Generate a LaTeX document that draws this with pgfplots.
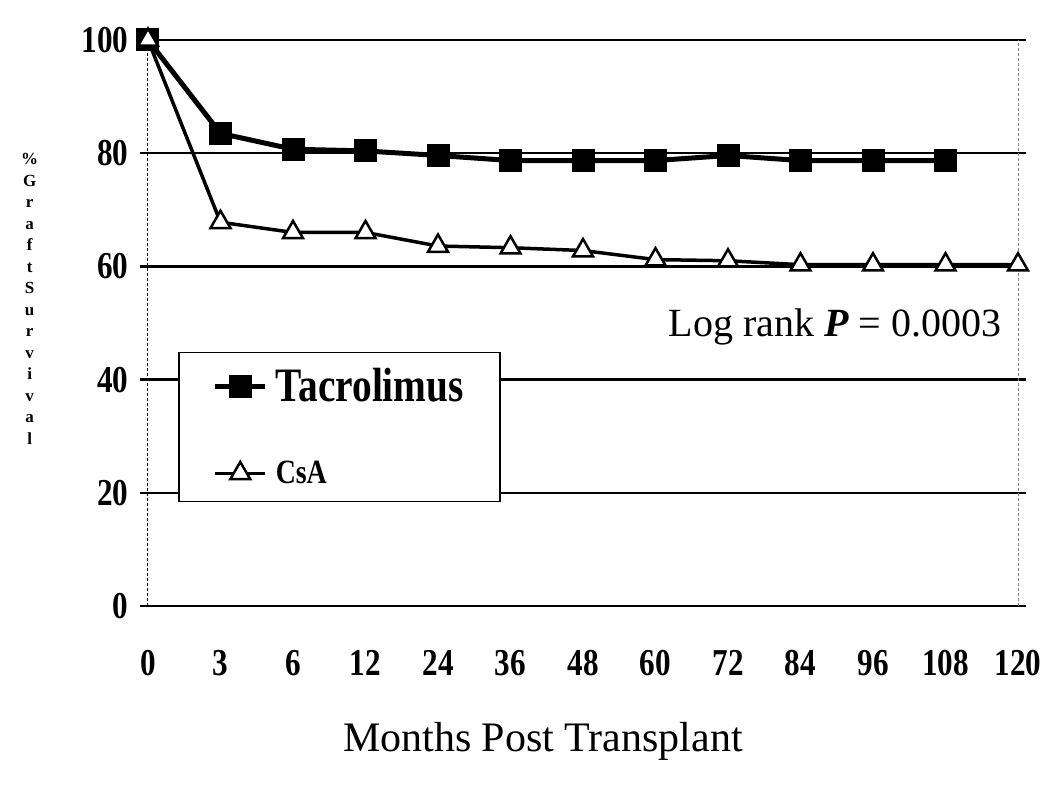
\documentclass[border=0pt]{standalone}
\usepackage{pgfplots}
\pgfplotsset{compat=1.18}
\usepackage{fontspec}
\setmainfont{Liberation Serif}
\newfontfamily\condfont[FakeStretch=0.82]{Liberation Serif}

\begin{document}
\begin{tikzpicture}
\path[use as bounding box] (0pt,0pt) rectangle (1050pt,785pt);
\begin{axis}[
  at={(148pt,179pt)}, anchor=south west,
  scale only axis, width=870pt, height=566pt,
  xmin=0, xmax=12, ymin=0, ymax=100,
  clip=false,
  axis line style={draw=none},
  xtick={0,...,12},
  xticklabels={0,3,6,12,24,36,48,60,72,84,96,108,120},
  ytick={0,20,40,60,80,100},
  yticklabels={0,20,40,60,80,100},
  /pgf/number format/assume math mode=true,
  xtick style={draw=none},
  ytick style={line width=2.5pt, black},
  major tick length=16pt, tick align=center,
  ymajorgrids, grid style={line width=2.5pt, black},
  ticklabel style={font=\condfont\bfseries\fontsize{38}{38}\selectfont},
  xticklabel style={yshift=-33pt},
  yticklabel style={xshift=-8pt},
  every axis x label/.style={at={(axis description cs:0.454,-0.24)}, anchor=center,
    font=\fontsize{42}{42}\selectfont},
  every axis y label/.style={at={(axis description cs:-0.136,0.54)}, anchor=center,
    font=\bfseries\fontsize{17}{21.5}\selectfont},
  xlabel={Months Post Transplant},
  ylabel={\begin{tabular}{@{}c@{}}\%\\G\\r\\a\\f\\t\\S\\u\\r\\v\\i\\v\\a\\l\end{tabular}},
  legend style={at={(axis description cs:0.0345,0.449)}, anchor=north west,
    draw=black, line width=1.5pt, fill=white, inner xsep=34pt, inner ysep=14pt,
    row sep=54pt, column sep=6pt},
  legend cell align=left,
  legend image code/.code={\draw[mark repeat=2,mark phase=2,#1] plot coordinates {(0pt,0pt) (25pt,0pt) (50pt,0pt)};},
]
\draw[densely dashed, line width=1pt] (axis cs:0,0) -- (axis cs:0,100);
\draw[densely dashed, line width=1pt, gray] (axis cs:12,0) -- (axis cs:12,100);

\addplot[black, line width=5pt, mark=square*, mark size=11pt, mark options={solid, line width=1pt}]
  coordinates {(0,100)(1,83.5)(2,80.7)(3,80.4)(4,79.6)(5,78.7)(6,78.7)(7,78.7)(8,79.6)(9,78.7)(10,78.7)(11,78.7)};
\addlegendentry{\condfont\bfseries\fontsize{48}{48}\selectfont Tacrolimus}

\addplot[black, line width=3.5pt, mark=triangle*, mark size=11.5pt, mark options={solid, fill=white, line width=2.5pt}]
  coordinates {(0,100)(1,67.8)(2,66)(3,66)(4,63.6)(5,63.3)(6,62.8)(7,61.2)(8,61)(9,60.3)(10,60.3)(11,60.3)(12,60.3)};
\addlegendentry{\condfont\bfseries\fontsize{34}{34}\selectfont CsA}

\node[anchor=east, font=\fontsize{40}{40}\selectfont] at (rel axis cs:0.985,0.493)
  {Log rank \textbf{\textit{P}} = 0.0003};
\end{axis}
\end{tikzpicture}
\end{document}
